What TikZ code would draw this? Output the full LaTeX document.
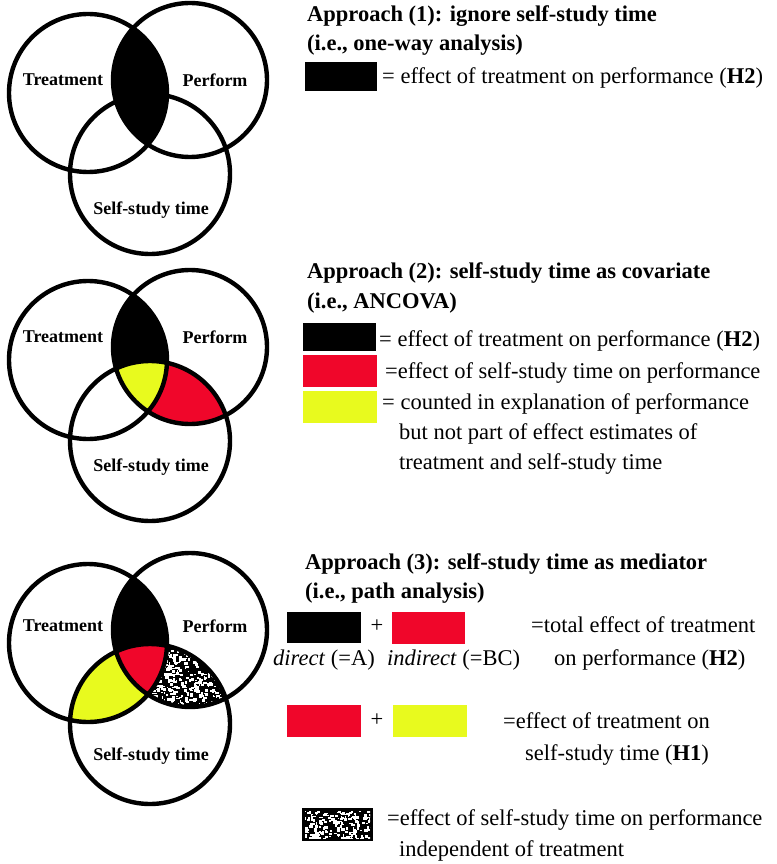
\documentclass[tikz,border=0pt]{standalone}
\usepackage{fontspec}
\setmainfont{Liberation Serif}
\usetikzlibrary{positioning}
\definecolor{signal}{RGB}{240,6,42}
\definecolor{lemon}{RGB}{232,250,30}
\tikzset{
  ring/.style={line width=4.4pt},
  setlab/.style={font=\fontsize{18}{20}\selectfont\bfseries,inner sep=0},
  head/.style={anchor=base west,inner sep=0,font=\fontsize{22.5}{27}\selectfont\bfseries},
  expl/.style={anchor=base west,inner sep=0,font=\fontsize{22.5}{27}\selectfont},
  swatch/.style={fill=#1},
  swatch/.default=black,
}
% the three sets, in picture units (y grows downwards)
\newcommand\setT{(88,93) circle [radius=79pt]}
\newcommand\setP{(190,80) circle [radius=77pt]}
\newcommand\setS{(150,174) circle [radius=80pt]}
% white speckles on black: x0, y0, width, height, count
\newcommand\speckle[5]{%
  \foreach \k in {1,...,#5}{\fill[white] ({#1+rnd*#3},{#2+rnd*#4}) rectangle ++({1+rnd*3},{1+rnd*2.5});}}

\begin{document}
\begin{tikzpicture}[x=1pt,y=-1pt]
  \useasboundingbox (0,0) rectangle (776,864);
  \pgfmathsetseed{41}

  % approach 1
  \begin{scope}
    \clip \setT; \fill[black] \setP;
  \end{scope}
  % approach 2
  \begin{scope}[shift={(0,267)}]
    \begin{scope} \clip \setP; \fill[signal] \setS; \end{scope}
    \begin{scope} \clip \setT; \fill[black] \setP; \end{scope}
    \begin{scope} \clip \setT; \clip \setP; \fill[lemon] \setS; \end{scope}
  \end{scope}
  % approach 3
  \begin{scope}[shift={(0,550)}]
    \begin{scope} \clip \setT; \fill[lemon] \setS; \end{scope}
    \begin{scope} \clip \setP; \clip \setS; \fill[black] \setS; \speckle{140}{90}{95}{75}{650} \end{scope}
    \begin{scope} \clip \setT; \fill[black] \setP; \end{scope}
    \begin{scope} \clip \setT; \clip \setP; \fill[signal] \setS; \end{scope}
  \end{scope}

  \foreach \oy/\ly [count=\i] in {0/0,267/-10,550/-4}{
    \begin{scope}[shift={(0,\oy)}]
      \draw[ring] \setT \setP \setS;
      \node[setlab] (treat\i) at (63,80+\ly) {Treatment};
      \node[setlab] (perf\i) at (215,80+\ly) {Perform};
      \node[setlab] (self\i) at (151,210+\ly) {Self-study time};
    \end{scope}
  }

  % legend 1
  \node[head] (h1a) at (307,22) {Approach (1): ignore self-study time};
  \node[head] (h1b) at (307,51) {(i.e., one-way analysis)};
  \fill[swatch] (305,62) rectangle (377,91);
  \node[expl] (e1a) at (382,84) {= effect of treatment on performance (\textbf{H2})};

  % legend 2
  \node[head] (h2a) at (307,278) {Approach (2): self-study time as covariate};
  \node[head] (h2b) at (307,308) {(i.e., ANCOVA)};
  \fill[swatch] (303,323) rectangle (376,351);
  \fill[swatch=signal] (303,355) rectangle (377,387);
  \fill[swatch=lemon] (303,391) rectangle (377,423);
  \node[expl] (e2a) at (379,346) {= effect of treatment on performance (\textbf{H2})};
  \node[expl] (e2b) at (385,378) {=effect of self-study time on performance};
  \node[expl] (e2c) at (382,409) {= counted in explanation of performance};
  \node[expl] (e2d) at (399,439) {but not part of effect estimates of};
  \node[expl] (e2e) at (399,469) {treatment and self-study time};

  % legend 3
  \node[head] (h3a) at (305,569) {Approach (3): self-study time as mediator};
  \node[head] (h3b) at (305,598) {(i.e., path analysis)};
  \fill[swatch] (287,612) rectangle (361,643);
  \node[expl,anchor=center] (p3a) at (377,626) {+};
  \fill[swatch=signal] (392,612) rectangle (465,644);
  \node[expl] (d3a) at (273,665) {\textit{direct} (=A)};
  \node[expl] (d3b) at (387,665) {\textit{indirect} (=BC)};
  \node[expl] (e3a) at (531,632) {=total effect of treatment};
  \node[expl] (e3b) at (554,665) {on performance (\textbf{H2})};
  \fill[swatch=signal] (287,705) rectangle (361,737);
  \node[expl,anchor=center] (p3b) at (377,720) {+};
  \fill[swatch=lemon] (393,705) rectangle (467,737);
  \node[expl] (e3c) at (503,728) {=effect of treatment on};
  \node[expl] (e3d) at (525,760) {self-study time (\textbf{H1})};
  \fill[swatch] (302,808) rectangle (373,841);
  \begin{scope}
    \clip (305,811) rectangle (370,838);
    \speckle{303}{809}{68}{30}{200}
  \end{scope}
  \node[expl] (e3e) at (387,825) {=effect of self-study time on performance};
  \node[expl] (e3f) at (399,856) {independent of treatment};
\end{tikzpicture}
\end{document}
